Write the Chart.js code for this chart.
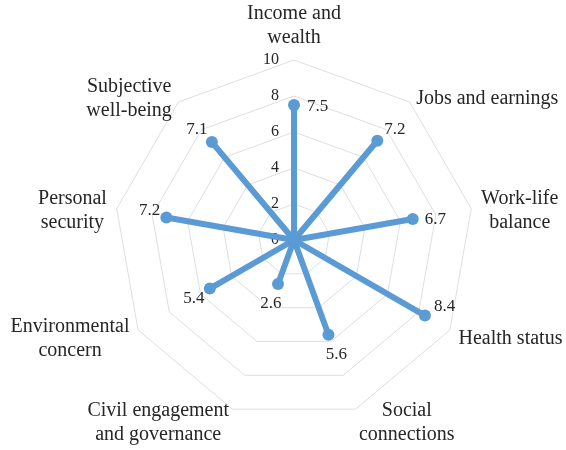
<!DOCTYPE html>
<html>
	<head>
		<meta charset="UTF-8">
		<title></title>
		<script src="https://cdn.jsdelivr.net/npm/chart.js@4/dist/chart.umd.min.js"></script>
		<style type="text/css">
			*{
				margin: 0;
				padding: 0;
			}
			body{
				background: white;
			}
			#wrap{
				width: 566px;
				height: 450px;
			}
		</style>
	</head>
	<body>
		<div id="wrap"><canvas id="radar"></canvas></div>
		<script type="text/javascript">
			var categories=[
				["Income and","wealth"],
				["Jobs and earnings"],
				["Work-life","balance"],
				["Health status"],
				["Social","connections"],
				["Civil engagement","and governance"],
				["Environmental","concern"],
				["Personal","security"],
				["Subjective","well-being"]
			];
			var values=[7.5,7.2,6.7,8.4,5.6,2.6,5.4,7.2,7.1];
			var tickValues=[0,2,4,6,8,10];

			// where each value label sits relative to its point: [dx, dy, align]
			var valueLabelPlace=[
				[13,2,"left"],[7,-11,"left"],[12,0,"left"],[9,-9,"left"],
				[8,20,"center"],[-7,20,"center"],[-16,10,"center"],
				[-6,-7,"right"],[-15,-13,"center"]
			];

			var blue="#5b9bd5";
			var textColor="#262626";
			var serif="'Liberation Serif','Times New Roman',serif";

			// one spoke per category: value at its own index, zero (centre) elsewhere
			var datasets=values.map(function(v,i){
				return {
					data: values.map((x,j)=>j==i?x:0),
					borderColor: blue,
					backgroundColor: blue,
					borderWidth: 6,
					borderJoinStyle: "round",
					borderCapStyle: "round",
					fill: false,
					pointRadius: values.map((x,j)=>j==i?6:0),
					pointBorderWidth: 0,
					pointBackgroundColor: blue
				};
			});

			var textPlugin={
				id: "textPlugin",
				beforeDatasetsDraw: function(chart){
					var ctx=chart.ctx;
					var r=chart.scales.r;
					ctx.save();
					ctx.fillStyle=textColor;
					// scale numbers, just left of the vertical axis
					ctx.font="16px "+serif;
					ctx.textAlign="right";
					ctx.textBaseline="middle";
					tickValues.forEach(function(t){
						var d=r.getDistanceFromCenterForValue(t);
						ctx.fillText(String(t),r.xCenter-15,r.yCenter-d);
					});
					// category names outside the outer ring
					ctx.font="20px "+serif;
					var lh=24;
					categories.forEach(function(lines,i){
						var p=r.getPointPosition(i,r.drawingArea+10);
						var ang=i*360/categories.length;
						var w=Math.max.apply(null,lines.map(s=>ctx.measureText(s).width));
						var cx;
						if(ang==0||ang==180){
							cx=p.x;
						}else if(ang<180){
							cx=p.x+w/2;
						}else{
							cx=p.x-w/2;
						}
						var top;
						if(i==0){
							top=p.y-lines.length*lh;
						}else{
							top=p.y+4-lines.length*lh/2;
						}
						ctx.textAlign="center";
						lines.forEach(function(s,k){
							ctx.fillText(s,cx,top+lh*k+lh/2);
						});
					});
					ctx.restore();
				},
				afterDatasetsDraw: function(chart){
					var ctx=chart.ctx;
					ctx.save();
					ctx.fillStyle=textColor;
					ctx.font="17px "+serif;
					ctx.textBaseline="middle";
					values.forEach(function(v,i){
						var pt=chart.getDatasetMeta(i).data[i];
						var place=valueLabelPlace[i];
						ctx.textAlign=place[2];
						ctx.fillText(v.toFixed(1),pt.x+place[0],pt.y+place[1]);
					});
					ctx.restore();
				}
			};

			var ctx=document.getElementById("radar").getContext("2d");
			var chart=new Chart(ctx,{
				type: "radar",
				data: {
					labels: categories,
					datasets: datasets
				},
				options: {
					responsive: true,
					maintainAspectRatio: false,
					animation: false,
					events: [],
					layout: {
						padding: {left: 22, right: 0, top: 60, bottom: 30}
					},
					elements: {
						line: {tension: 0}
					},
					plugins: {
						legend: {display: false},
						tooltip: {enabled: false}
					},
					scales: {
						r: {
							min: 0,
							max: 10,
							ticks: {display: false, stepSize: 2},
							pointLabels: {display: false},
							angleLines: {display: false},
							grid: {color: "#dedede", lineWidth: 1}
						}
					}
				},
				plugins: [textPlugin]
			});
		</script>
	</body>
</html>
